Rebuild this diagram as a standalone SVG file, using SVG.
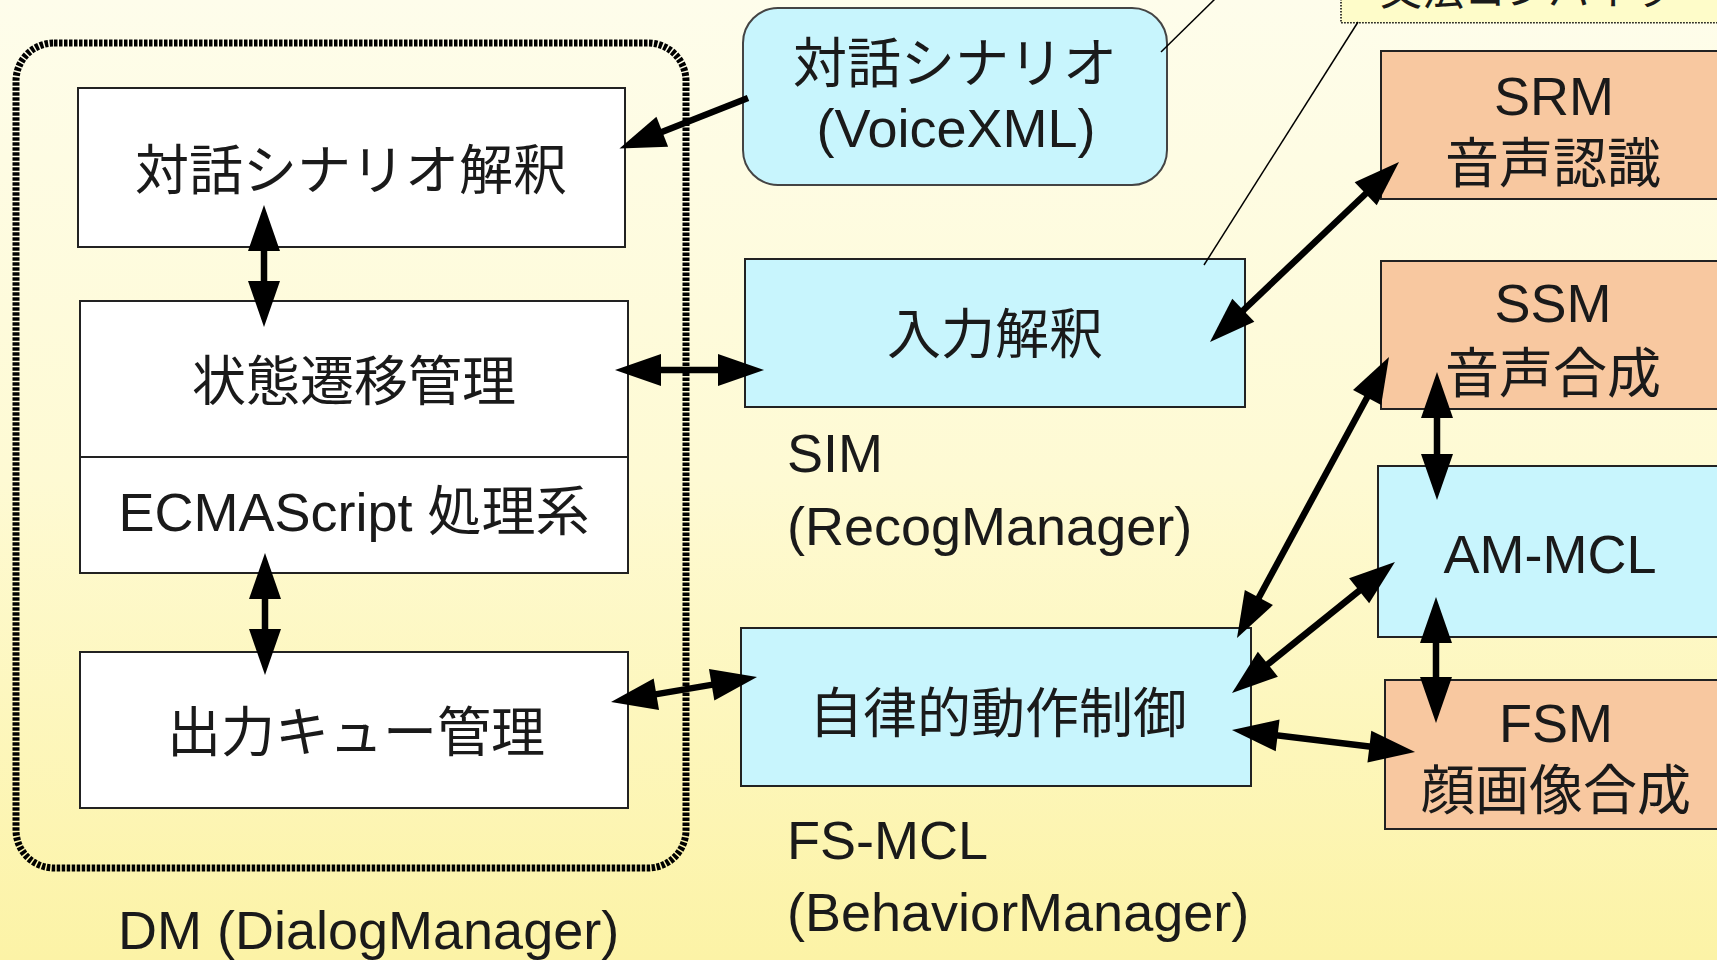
<svg xmlns="http://www.w3.org/2000/svg" width="1717" height="960" viewBox="0 0 1717 960">
<defs>
<linearGradient id="bg" x1="0" y1="0" x2="0" y2="1">
<stop offset="0" stop-color="#FEFDEB"/>
<stop offset="0.5" stop-color="#FEFAD3"/>
<stop offset="1" stop-color="#FCF3A6"/>
</linearGradient>
<marker id="ah" markerUnits="userSpaceOnUse" markerWidth="48" markerHeight="34" refX="25" refY="16" orient="auto-start-reverse" overflow="visible">
<path d="M0,0 L46,16 L0,32 Z" fill="#000"/>
</marker>
</defs>
<style>
text{font-family:"Liberation Sans","Noto Sans CJK JP",sans-serif;fill:#1a1a1a;font-size:54px}
.c{text-anchor:middle}
.box{stroke:#222;stroke-width:2}
.white{fill:#fff}
.cyan{fill:#C8F5FD}
.peach{fill:#F8C8A0}
.arr{stroke:#000;stroke-width:6.5;fill:none}
.call{stroke:#000;stroke-width:1.5;fill:none}
</style>
<rect x="0" y="0" width="1717" height="960" fill="url(#bg)"/>

<g id="grammar-compiler">
<rect x="1341" y="-40" width="400" height="62.7" fill="#FEFCC9" stroke="#000" stroke-width="1.5" stroke-dasharray="1.5 1.5"/>
<text x="1380" y="5" style="font-size:42px">文法コンパイラ</text>
</g>

<g id="dm">
<rect x="16" y="43" width="670" height="825" rx="38" fill="none" stroke="#000" stroke-width="7" stroke-dasharray="3.5 1.5"/>
<text x="118" y="949">DM (DialogManager)</text>
</g>

<g id="scenario-interp">
<rect class="box white" x="78" y="88" width="547" height="159"/>
<text class="c" x="351" y="190">対話シナリオ解釈</text>
</g>

<g id="state-mgmt">
<rect class="box white" x="80" y="301" width="548" height="272"/>
<line x1="80" y1="457" x2="628" y2="457" stroke="#222" stroke-width="2"/>
<text class="c" x="354" y="401">状態遷移管理</text>
<text class="c" x="354" y="531">ECMAScript 処理系</text>
</g>

<g id="output-queue">
<rect class="box white" x="80" y="652" width="548" height="156"/>
<text class="c" x="356" y="752">出力キュー管理</text>
</g>

<g id="scenario">
<rect x="743" y="8" width="424" height="177" rx="35" fill="#C8F5FD" stroke="#444" stroke-width="2"/>
<text class="c" x="955" y="83">対話シナリオ</text>
<text class="c" x="956" y="147">(VoiceXML)</text>
</g>

<g id="sim">
<rect class="box cyan" x="745" y="259" width="500" height="148"/>
<text class="c" x="995" y="354">入力解釈</text>
<text x="787" y="472">SIM</text>
<text x="787" y="545">(RecogManager)</text>
</g>

<g id="fsmcl">
<rect class="box cyan" x="741" y="628" width="510" height="158"/>
<text class="c" x="998" y="733">自律的動作制御</text>
<text x="787" y="859">FS-MCL</text>
<text x="787" y="931">(BehaviorManager)</text>
</g>

<g id="srm">
<rect class="box peach" x="1381" y="51" width="360" height="148"/>
<text class="c" x="1554" y="115">SRM</text>
<text class="c" x="1553" y="183">音声認識</text>
</g>

<g id="ssm">
<rect class="box peach" x="1381" y="261" width="360" height="148"/>
<text class="c" x="1553" y="322">SSM</text>
<text class="c" x="1553" y="393">音声合成</text>
</g>

<g id="am-mcl">
<rect class="box cyan" x="1378" y="466" width="360" height="171"/>
<text class="c" x="1550" y="573">AM-MCL</text>
</g>

<g id="fsm">
<rect class="box peach" x="1385" y="680" width="360" height="149"/>
<text class="c" x="1556" y="742">FSM</text>
<text class="c" x="1556" y="810">顔画像合成</text>
</g>

<g id="connectors">
<line class="call" x1="1161" y1="52" x2="1216" y2="-2"/>
<line class="call" x1="1204" y1="265" x2="1358" y2="22"/>
<path class="arr" d="M748,98 L639,140.9" marker-end="url(#ah)"/>
<path class="arr" d="M264,226 L264,306" marker-start="url(#ah)" marker-end="url(#ah)"/>
<path class="arr" d="M636,370 L743,370" marker-start="url(#ah)" marker-end="url(#ah)"/>
<path class="arr" d="M265,574 L265,654" marker-start="url(#ah)" marker-end="url(#ah)"/>
<path class="arr" d="M631.7,698.4 L736.3,680.6" marker-start="url(#ah)" marker-end="url(#ah)"/>
<path class="arr" d="M1225.2,327.5 L1383.8,176.5" marker-start="url(#ah)" marker-end="url(#ah)"/>
<path class="arr" d="M1247,619.5 L1379,375.5" marker-start="url(#ah)" marker-end="url(#ah)"/>
<path class="arr" d="M1248.4,679.9 L1378.6,575.1" marker-start="url(#ah)" marker-end="url(#ah)"/>
<path class="arr" d="M1252.8,732.5 L1394.2,749.5" marker-start="url(#ah)" marker-end="url(#ah)"/>
<path class="arr" d="M1437,393 L1437,479" marker-start="url(#ah)" marker-end="url(#ah)"/>
<path class="arr" d="M1436,618 L1436,702" marker-start="url(#ah)" marker-end="url(#ah)"/>
</g>
</svg>
